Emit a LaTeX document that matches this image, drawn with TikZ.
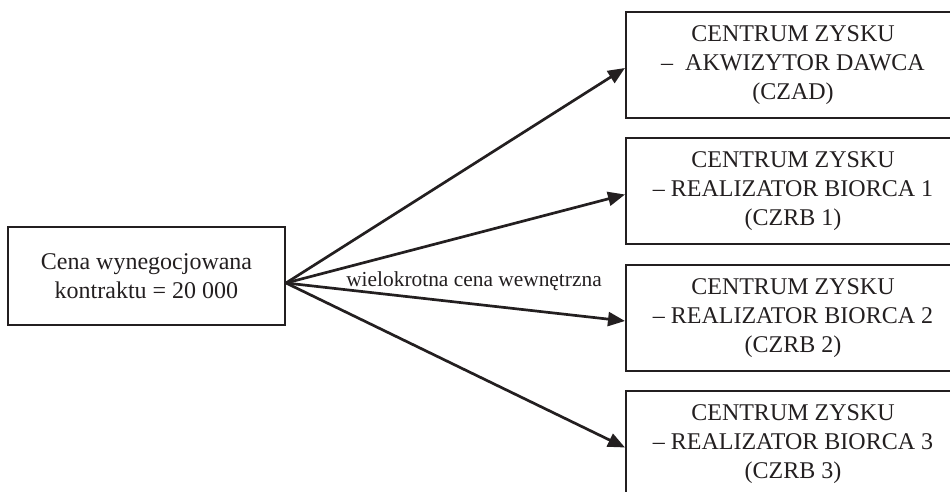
\documentclass[tikz,border=0pt]{standalone}
\usepackage{fontspec}
\setmainfont{Liberation Serif}
\usepackage{tikz}
\usetikzlibrary{
  calc,                  % Coordinate math: ($(A)+(0,7)$)
  positioning            % Relative placement of the boxes
}
\usetikzlibrary{arrows.meta}
\definecolor{ink}{HTML}{231F20}

\tikzset{
  box/.style={draw=ink, text=ink, line width=1pt, align=center, inner sep=0pt,
    font=\fontsize{12}{14.5}\selectfont},
  flow/.style={draw=ink, line width=1.35pt, -{Triangle[length=8.5pt, width=7pt]}}
}

\begin{document}
\begin{tikzpicture}[x=0.5pt, y=-0.5pt]
          \def\rightX{793}    % Centre of the right column of boxes
          \def\gap{126.5}     % Step between the right boxes
          \useasboundingbox (0,0) rectangle (950,492);
          \clip (0,0) rectangle (950,492);
          \node[box, minimum width=138.5pt, minimum height=49pt] (cena) at (146.5,276)
            {Cena wynegocjowana\\kontraktu = 20 000};
          \node[box, minimum width=167pt, minimum height=53pt] (czad) at (\rightX,65)
            {CENTRUM ZYSKU\\–\ \ AKWIZYTOR DAWCA\\(CZAD)};
          \node[box, minimum width=167pt, minimum height=53pt] (czrb1) at (\rightX,65+\gap)
            {CENTRUM ZYSKU\\– REALIZATOR BIORCA 1\\(CZRB 1)};
          \node[box, minimum width=167pt, minimum height=53pt] (czrb2) at (\rightX,65+2*\gap)
            {CENTRUM ZYSKU\\– REALIZATOR BIORCA 2\\(CZRB 2)};
          \node[box, minimum width=167pt, minimum height=53pt] (czrb3) at (\rightX,65+3*\gap)
            {CENTRUM ZYSKU\\– REALIZATOR BIORCA 3\\(CZRB 3)};
          \coordinate (src) at ($(cena.east)+(0,7)$);
          \foreach \t in {czad, czrb1, czrb2, czrb3}
            \draw[flow] (src) -- ($(\t.west)+(0,3)$);
          \node[anchor=base, text=ink, font=\fontsize{10.7}{12}\selectfont] (wce) at (474,287)
            {wielokrotna cena wewnętrzna};
        \end{tikzpicture}
\end{document}
